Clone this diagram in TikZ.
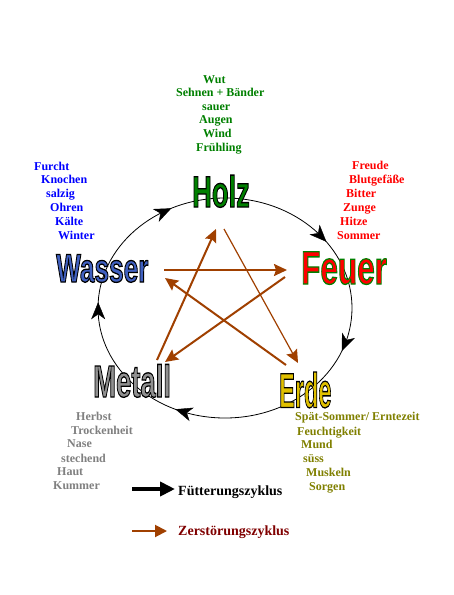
\documentclass[tikz,border=0pt]{standalone}
\usepackage{fontspec}
\usepackage{graphicx}
\setmainfont{Liberation Serif}
\setsansfont{Liberation Sans}
\usetikzlibrary{arrows.meta,decorations.markings}
\definecolor{holzgreen}{RGB}{0,128,0}
\definecolor{wasserblue}{RGB}{64,96,192}
\definecolor{txtblue}{RGB}{0,0,255}
\definecolor{erdegold}{RGB}{224,192,0}
\definecolor{metallgray}{RGB}{144,144,144}
\definecolor{txtgray}{RGB}{128,128,128}
\definecolor{txtolive}{RGB}{128,128,0}
\definecolor{starbrown}{RGB}{160,64,0}
\definecolor{legendred}{RGB}{128,0,0}
\definecolor{feuerred}{RGB}{255,0,0}
% #1 name, #2 position, #3 fill colour, #4 stroke colour (RGB 0..1 triple), #5 size, #6 xscale, #7 text
\newcommand\bigword[7]{%
  \node[bigw, text=#3] (#1) at (#2) {\fontsize{#5}{#5}\selectfont
    \special{pdf:literal direct #4 RG 2 Tr 1.3 w}\scalebox{#6}[1]{#7}\special{pdf:literal direct 0 Tr 0.4 w}};
}
\newcommand\cyclearrow[1]{%
  \path[decorate, decoration={markings, mark=at position 0.999 with {\arrow{Stealth[length=17pt,width=14pt,inset=5pt]}}}]
    ({225+127*cos(#1-3)},{308+110*sin(#1-3)}) -- ({225+127*cos(#1+3)},{308+110*sin(#1+3)});
}
\begin{document}
\begin{tikzpicture}[x=1pt,y=-1pt,
  bigw/.style={anchor=base west, inner sep=0pt, font=\sffamily\bfseries},
  lbl/.style={anchor=base west, inner sep=0pt, font=\fontsize{12}{14}\selectfont\bfseries},
  leg/.style={anchor=base west, inner sep=0pt, font=\fontsize{14}{16}\selectfont\bfseries},
  star/.style={starbrown, line width=2pt, -{Stealth[length=13pt,width=12pt,inset=2pt]}},
  cyc/.style={black, line width=0.8pt}]
\useasboundingbox (0,0) rectangle (454,595);
\fill[white] (0,0) rectangle (454,595);

% cycle ellipse
\draw[cyc] (225,308) ellipse [x radius=127pt, y radius=110pt];
\cyclearrow{242}
\cyclearrow{320}
\cyclearrow{20}
\cyclearrow{110}
\cyclearrow{180}

% element names
\bigword{holz}{192,207}{holzgreen}{0 0 0}{44}{0.62}{Holz}
\bigword{wasser}{56,282}{wasserblue}{0 0 0}{40}{0.655}{Wasser}
\bigword{feuer}{301,284}{feuerred}{0 0.5 0}{47}{0.67}{Feuer}
\bigword{metall}{93,397}{metallgray}{0 0 0}{45}{0.61}{Metall}
\bigword{erde}{279,407.5}{erdegold}{0 0 0}{49}{0.48}{Erde}

% star (destruction) arrows
\coordinate (mh1) at (157,360); \coordinate (mh2) at (216,229);
\coordinate (he1) at (224,229); \coordinate (he2) at (298,363);
\coordinate (wf1) at (164,270); \coordinate (wf2) at (287,270);
\coordinate (fm1) at (285,277); \coordinate (fm2) at (165,362);
\coordinate (ew1) at (286,365); \coordinate (ew2) at (165,278);
\draw[star] (mh1) -- (mh2);
\draw[star, line width=1.2pt] (he1) -- (he2);
\draw[star] (wf1) -- (wf2);
\draw[star] (fm1) -- (fm2);
\draw[star] (ew1) -- (ew2);

% Holz attributes
\begin{scope}[every node/.style={lbl, text=holzgreen}]
\node (h1) at (203,83) {Wut};
\node (h2) at (176,96) {Sehnen + Bänder};
\node (h3) at (202,110) {sauer};
\node (h4) at (199,123) {Augen};
\node (h5) at (203,137) {Wind};
\node (h6) at (196,151) {Frühling};
\end{scope}
% Wasser attributes
\begin{scope}[every node/.style={lbl, text=txtblue}]
\node (w1) at (34,170) {Furcht};
\node (w2) at (41,183) {Knochen};
\node (w3) at (46,197) {salzig};
\node (w4) at (50,211) {Ohren};
\node (w5) at (55,225) {Kälte};
\node (w6) at (58,239) {Winter};
\end{scope}
% Feuer attributes
\begin{scope}[every node/.style={lbl, text=feuerred}]
\node (f1) at (352,169) {Freude};
\node (f2) at (349,183) {Blutgefäße};
\node (f3) at (346,197) {Bitter};
\node (f4) at (343,211) {Zunge};
\node (f5) at (340,225) {Hitze};
\node (f6) at (337,239) {Sommer};
\end{scope}
% Metall attributes
\begin{scope}[every node/.style={lbl, text=txtgray}]
\node (m1) at (76,420) {Herbst};
\node (m2) at (71,434) {Trockenheit};
\node (m3) at (67,447) {Nase};
\node (m4) at (61,462) {stechend};
\node (m5) at (57,475) {Haut};
\node (m6) at (53,489) {Kummer};
\end{scope}
% Erde attributes
\begin{scope}[every node/.style={lbl, text=txtolive}]
\node (e1) at (295,420.5) {Spät-Sommer/ Erntezeit};
\node (e2) at (297,435) {Feuchtigkeit};
\node (e3) at (301,448) {Mund};
\node (e4) at (303,462) {süss};
\node (e5) at (306,476) {Muskeln};
\node (e6) at (309,490) {Sorgen};
\end{scope}

% legend
\coordinate (lg1a) at (132,489); \coordinate (lg1b) at (175,489);
\coordinate (lg2a) at (132,531); \coordinate (lg2b) at (167,531);
\draw[black, line width=4pt, -{Triangle[length=15pt,width=14pt]}] (lg1a) -- (lg1b);
\draw[starbrown, line width=2pt, -{Triangle[length=12pt,width=12pt]}] (lg2a) -- (lg2b);
\node[leg, text=black] (leg1) at (178,495) {Fütterungszyklus};
\node[leg, text=legendred] (leg2) at (178,535) {Zerstörungszyklus};
\end{tikzpicture}
\end{document}
